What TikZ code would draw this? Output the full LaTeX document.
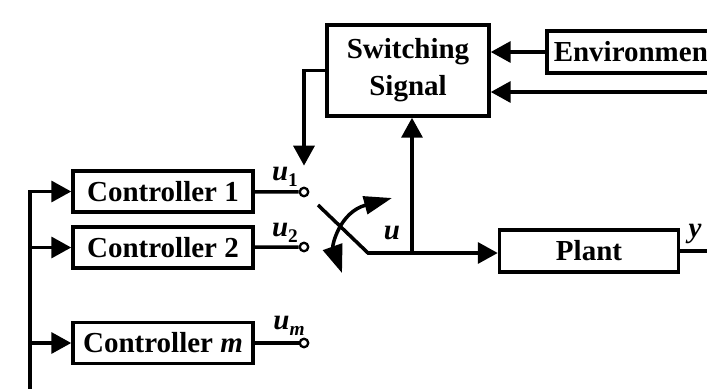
\documentclass[tikz,border=0pt]{standalone}
\usepackage{fontspec}
\setmainfont{Liberation Serif}
\usetikzlibrary{arrows.meta,positioning}
\newcommand{\sub}[1]{\raisebox{-0.45ex}{\fontsize{11}{11}\selectfont #1}}
\tikzset{
  >={Triangle[length=0.4cm,width=0.42cm]},
  blk/.style={draw,line width=2pt,inner sep=0pt,align=center,
              font=\fontsize{16.5}{21}\selectfont\bfseries},
  ctrl/.style={blk,minimum width=3.6cm,minimum height=0.82cm},
  term/.style={circle,draw,fill=white,line width=1.3pt,inner sep=0pt,minimum size=0.17cm},
  wire/.style={line width=2pt},
  arr/.style={wire,->},
  swarr/.style={wire,{Triangle[length=0.56cm,width=0.4cm]}-{Triangle[length=0.56cm,width=0.36cm]}},
  sig/.style={font=\fontsize{16.5}{20}\selectfont\bfseries\itshape,inner sep=0pt},
}

\begin{document}
\begin{tikzpicture}[x=0.02cm,y=-0.02cm]
    \clip (0,0) rectangle (707,389);
    % --- switching logic
    \node[blk,minimum width=3.24cm,minimum height=1.82cm] at (408,70.5) (ss) {Switching\\Signal};
    \node[blk,anchor=west,minimum height=0.84cm,inner xsep=0.14cm] at (545,52) (env) {Environment};
    \coordinate (fb) at (720,92);
    % --- controllers
    \node[ctrl] at (163,191.5) (c1) {Controller 1};
    \node[ctrl] at (163,247.5) (c2) {Controller 2};
    \node[ctrl] at (163,343)   (cm) {Controller \textit{m}};
    \node[term] at (304,192) (t1) {};
    \node[term] at (304,247) (t2) {};
    \node[term] at (304,343) (tm) {};
    \node[sig] at (285,177) (l1) {u\sub{\upshape 1}};
    \node[sig] at (285,233) (l2) {u\sub{\upshape 2}};
    \node[sig] at (289,326) (lm) {u\sub{m}};
    \coordinate (bus) at (30,400);
    % --- switch and plant
    \coordinate (sw)  at (318,205);
    \coordinate (swk) at (368,253);
    \coordinate (jn)  at (412,253);
    \node[blk,minimum width=3.58cm,minimum height=0.84cm] at (589,251) (plant) {Plant};
    \coordinate (out) at (720,251);
    \node[sig] at (392,233) (lu) {u};
    \node[sig] at (695,234) (ly) {y};

    \draw[arr] (env.west) -- (env.west -| ss.east);
    \draw[arr] (fb) -- (fb -| ss.east);
    \draw[arr] (ss.west) -| ([yshift=0.42cm]t1.north);
    \draw[arr] (bus) |- (c1);
    \draw[arr] (bus |- c2) -- (c2);
    \draw[arr] (bus |- cm) -- (cm);
    \draw[wire] (c1) -- (t1);
    \draw[wire] (c2) -- (t2);
    \draw[wire] (cm) -- (tm);
    \draw[wire] (sw) -- (swk) -- (jn);
    \draw[arr] (jn) -- (jn -| plant.west);
    \draw[arr] (jn) -- (jn |- ss.south);
    \draw[wire] (plant) -- (out);
    \draw[swarr] (342,273) .. controls (332,245) and (340,212) .. (392,198);
  \end{tikzpicture}
\end{document}
